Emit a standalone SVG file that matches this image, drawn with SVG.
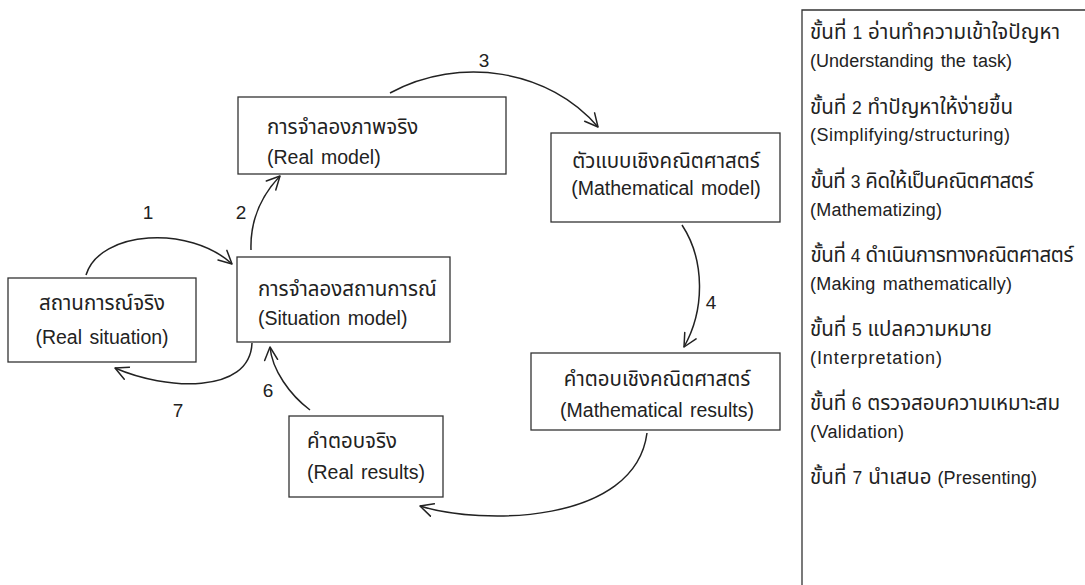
<svg xmlns="http://www.w3.org/2000/svg" width="1085" height="585" viewBox="0 0 1085 585">
<defs>
<style>
text{font-family:"Liberation Sans","Noto Sans Thai","Noto Sans","DejaVu Sans",sans-serif;font-size:18px;fill:#222;word-spacing:2px}
.th{font-size:20.5px;word-spacing:0}
.n{font-size:17.5px}
.b{font-size:19.5px}
.bt{font-size:20.5px;word-spacing:0}
.lbl{font-size:19px;text-anchor:middle}
.box{fill:#fff;stroke:#333;stroke-width:1.3}
.c{text-anchor:middle}
.edge{fill:none;stroke:#222;stroke-width:1.5}
.ah{fill:none;stroke:#222;stroke-width:1.5;stroke-linecap:round;stroke-linejoin:round}
</style>
<marker id="arr" viewBox="0 0 16 16" refX="14" refY="8" markerWidth="16" markerHeight="16" markerUnits="userSpaceOnUse" orient="auto">
<path class="ah" d="M1,1.5 L14,8 L1,14.5"/>
</marker>
</defs>
<rect width="1085" height="585" fill="#fff"/>

<g id="panel">
<path d="M802,585 L802,10 L1085,10" fill="none" stroke="#333" stroke-width="1.3"/>
<text class="th" x="810" y="39" textLength="250">ขั้นที่ <tspan class="n">1</tspan> อ่านทำความเข้าใจปัญหา</text>
<text x="810" y="67" textLength="202">(Understanding the task)</text>
<text class="th" x="810" y="114" textLength="203">ขั้นที่ <tspan class="n">2</tspan> ทำปัญหาให้ง่ายขึ้น</text>
<text x="810" y="141" textLength="200">(Simplifying/structuring)</text>
<text class="th" x="810" y="188" textLength="223">ขั้นที่ <tspan class="n">3</tspan> คิดให้เป็นคณิตศาสตร์</text>
<text x="810" y="216" textLength="132">(Mathematizing)</text>
<text class="th" x="810" y="262" textLength="263">ขั้นที่ <tspan class="n">4</tspan> ดำเนินการทางคณิตศาสตร์</text>
<text x="810" y="290" textLength="202">(Making mathematically)</text>
<text class="th" x="810" y="336" textLength="182">ขั้นที่ <tspan class="n">5</tspan> แปลความหมาย</text>
<text x="810" y="364" textLength="132">(Interpretation)</text>
<text class="th" x="810" y="410" textLength="250">ขั้นที่ <tspan class="n">6</tspan> ตรวจสอบความเหมาะสม</text>
<text x="810" y="438" textLength="94">(Validation)</text>
<text class="th" x="810" y="484" textLength="227">ขั้นที่ <tspan class="n">7</tspan> นำเสนอ <tspan style="font-size:18px;word-spacing:2px">(Presenting)</tspan></text>
</g>

<g id="n1">
<rect class="box" x="8" y="278" width="188" height="84"/>
<text class="c bt" x="102" y="310">สถานการณ์จริง</text>
<text class="c b" x="102" y="344">(Real situation)</text>
</g>
<g id="n2">
<rect class="box" x="237" y="257" width="213" height="85"/>
<text class="bt" x="258" y="296">การจำลองสถานการณ์</text>
<text class="b" x="258" y="325">(Situation model)</text>
</g>
<g id="n3">
<rect class="box" x="238" y="97" width="268" height="77"/>
<text class="bt" x="267" y="134">การจำลองภาพจริง</text>
<text class="b" x="267" y="164">(Real model)</text>
</g>
<g id="n4">
<rect class="box" x="551" y="133" width="229" height="89"/>
<text class="c bt" x="666" y="168">ตัวแบบเชิงคณิตศาสตร์</text>
<text class="c b" x="666" y="195">(Mathematical model)</text>
</g>
<g id="n5">
<rect class="box" x="531" y="353" width="249" height="77"/>
<text class="c bt" x="657" y="386">คำตอบเชิงคณิตศาสตร์</text>
<text class="c b" x="657" y="417">(Mathematical results)</text>
</g>
<g id="n6">
<rect class="box" x="289" y="416" width="154" height="81"/>
<text class="bt" x="307" y="448">คำตอบจริง</text>
<text class="b" x="307" y="479">(Real results)</text>
</g>

<g id="connectors">
<path class="edge" marker-end="url(#arr)" d="M86,275 C100,230 190,225 232,264"/>
<path class="edge" marker-end="url(#arr)" d="M251,250 C250,220 262,195 280,176"/>
<path class="edge" marker-end="url(#arr)" d="M390,93 C460,55 550,70 598,127"/>
<path class="edge" marker-end="url(#arr)" d="M682,225 C705,260 705,310 684,347"/>
<path class="edge" marker-end="url(#arr)" d="M647,433 C635,525 480,525 420,506"/>
<path class="edge" marker-end="url(#arr)" d="M310,410 C290,395 272,370 270,347"/>
<path class="edge" marker-end="url(#arr)" d="M252,343 C250,395 165,390 115,368"/>
</g>

<g id="labels">
<text class="lbl" x="148" y="219">1</text>
<text class="lbl" x="241" y="219">2</text>
<text class="lbl" x="484" y="67">3</text>
<text class="lbl" x="711" y="309">4</text>
<text class="lbl" x="268" y="397">6</text>
<text class="lbl" x="178" y="417">7</text>
</g>
</svg>
